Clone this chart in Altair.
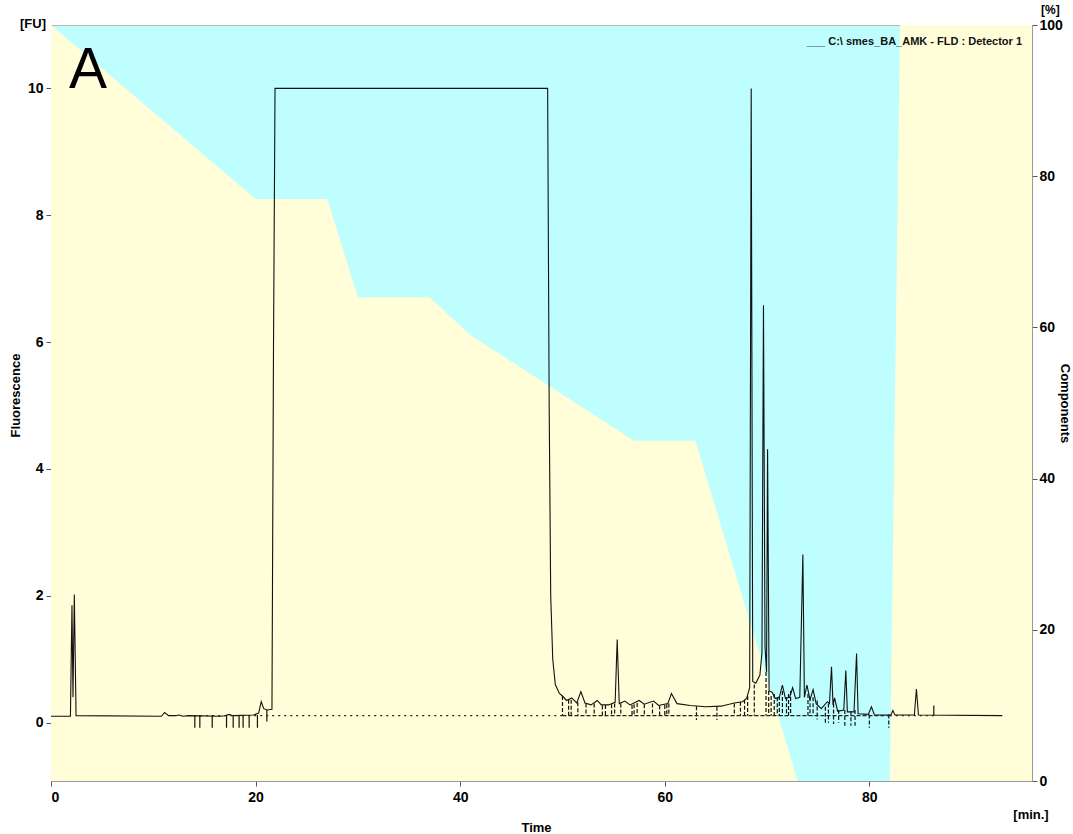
import altair as alt
import pandas as pd

# ---------------- data ----------------
trace_time = [0.0, 1.9, 2.05, 2.15, 2.28, 2.45, 10.8, 11.1, 11.5, 12.2, 12.5, 12.9, 13.4, 16.5, 17.0, 17.4, 17.8,
              19.8, 20.3, 20.55, 20.8, 21.1, 21.6, 21.75, 21.9, 48.55, 48.7, 48.85, 49.05, 49.3, 49.7, 50.0, 50.4,
              50.9, 51.4, 51.8, 52.2, 52.8, 53.4, 53.8, 54.5, 55.15, 55.35, 55.55, 56.1, 56.6, 57.5, 58.0, 58.9,
              59.4, 60.3, 60.65, 61.2, 62.5, 64.0, 65.5, 66.8, 67.6, 68.0, 68.3, 68.45, 68.6, 68.9, 69.3, 69.5,
              69.65, 69.8, 69.95, 70.05, 70.2, 70.5, 70.8, 71.2, 71.5, 71.8, 72.2, 72.5, 72.8, 73.2, 73.5, 73.65,
              73.9, 74.2, 74.5, 74.8, 75.3, 75.9, 76.1, 76.3, 76.45, 76.6, 76.9, 77.5, 77.7, 77.85, 78.5, 78.75,
              78.9, 79.9, 80.2, 80.5, 82.1, 82.3, 82.5, 84.4, 84.6, 84.8, 93.0]
trace_fu = [0.10, 0.10, 1.85, 0.40, 2.02, 0.11, 0.10, 0.16, 0.11, 0.11, 0.12, 0.10, 0.11, 0.10, 0.11, 0.13, 0.11,
            0.12, 0.15, 0.33, 0.22, 0.20, 0.21, 5.9, 10.0, 10.0, 5.0, 2.0, 1.0, 0.6, 0.46, 0.42, 0.35,
            0.39, 0.31, 0.49, 0.31, 0.28, 0.35, 0.28, 0.28, 0.32, 1.31, 0.30, 0.34, 0.28, 0.35, 0.29, 0.34,
            0.27, 0.30, 0.46, 0.30, 0.27, 0.25, 0.26, 0.31, 0.33, 0.38, 0.55, 10.0, 0.65, 0.62, 0.75, 1.1,
            6.58, 1.2, 0.8, 4.31, 0.5, 0.48, 0.38, 0.40, 0.59, 0.38, 0.40, 0.55, 0.38, 0.40, 2.65, 0.40,
            0.59, 0.36, 0.52, 0.30, 0.22, 0.33, 0.30, 0.88, 0.28, 0.39, 0.18, 0.20, 0.82, 0.17, 0.17, 1.09,
            0.14, 0.13, 0.25, 0.12, 0.12, 0.19, 0.12, 0.12, 0.53, 0.12, 0.11]

# solvent gradient profile (Components, %)
grad_time = [0, 20, 27, 30, 37, 41, 57, 63, 73, 82, 83, 95.9]
grad_pct = [100, 77, 77, 64, 64, 59, 45, 45, 0, 0, 100, 100]

# peak delimiters
sep_time = [14.06, 14.55, 15.76, 17.16, 17.81, 18.39, 18.78, 19.37, 20.18, 21.1,
            50.0, 50.6, 50.85, 51.5, 52.3, 53.1, 53.9, 54.2, 54.8, 55.1, 55.7, 56.8, 57.0, 57.3, 58.0, 58.8,
            59.5, 60.0, 60.2, 60.4, 63.1, 65.1, 66.8, 67.4, 67.8, 68.1,
            68.75, 69.9, 70.16, 70.4, 70.7, 71.0, 71.2, 71.5, 71.9, 72.1, 72.3, 74.0, 74.2, 74.5, 74.9,
            75.7, 76.0, 76.5, 77.0, 77.6, 78.2, 78.6, 80.0, 81.9, 86.3]
sep_top = [0.12, 0.12, 0.12, 0.12, 0.12, 0.12, 0.12, 0.12, 0.12, 0.20,
           0.42, 0.36, 0.36, 0.32, 0.30, 0.30, 0.27, 0.28, 0.29, 0.30, 0.30, 0.28, 0.29, 0.31, 0.29, 0.30,
           0.27, 0.28, 0.29, 0.30, 0.26, 0.25, 0.30, 0.33, 0.36, 0.42,
           0.60, 0.80, 0.50, 0.42, 0.45, 0.40, 0.42, 0.50, 0.40, 0.45, 0.50, 0.45, 0.40, 0.40, 0.35,
           0.25, 0.30, 0.30, 0.20, 0.20, 0.18, 0.20, 0.13, 0.13, 0.27]
sep_bottom = [-0.08, -0.08, -0.08, -0.08, -0.08, -0.08, -0.08, -0.08, -0.08, 0.02,
              0.11, 0.11, 0.11, 0.11, 0.11, 0.11, 0.11, 0.11, 0.11, 0.11, 0.11, 0.11, 0.11, 0.11, 0.11, 0.11,
              0.11, 0.11, 0.11, 0.11, 0.04, 0.04, 0.11, 0.11, 0.11, 0.11,
              0.11, 0.11, 0.11, 0.11, 0.11, 0.11, 0.11, 0.11, 0.11, 0.11, 0.11, 0.11, 0.11, 0.11, 0.05,
              0.0, 0.0, -0.02, 0.0, -0.05, -0.05, -0.05, -0.08, -0.08, 0.11]
sep_style = ["solid"] * 10 + ["dash"] * 26 + ["dash"] * 24 + ["solid"]

# integration baseline segments
base_start = [14.0, 50.0, 82.0]
base_end = [50.0, 82.0, 86.3]
base_level = [0.11, 0.11, 0.11]
base_style = ["dot", "dash", "dot"]

X_DOM = [0, 95.9]
Y_DOM = [-0.92, 11.0]
CYAN = "#BFFEFE"
YELLOW = "#FFFED9"
FONT = "Liberation Sans"

trace_df = pd.DataFrame({"t": trace_time, "fu": trace_fu})
grad_df = pd.DataFrame({"t": grad_time, "pct": grad_pct})
sep_df = pd.DataFrame({"t": sep_time, "fu": sep_top, "fu2": sep_bottom, "style": sep_style})
base_df = pd.DataFrame({"t": base_start, "t2": base_end, "fu": base_level, "style": base_style})

x_axis = alt.Axis(values=[0, 20, 40, 60, 80], title="Time", grid=False, titleX=485, titleY=46,
                  titleAlign="center", titleBaseline="middle", labelPadding=4)
x_enc = alt.X("t:Q", scale=alt.Scale(domain=X_DOM, nice=False, zero=False), axis=x_axis)

y_axis = alt.Axis(values=[0, 2, 4, 6, 8, 10], title="Fluorescence", grid=False, titleAngle=270,
                  titleX=-36, titleY=370, titleAlign="center", titleBaseline="middle", labelPadding=3)
y_scale = alt.Scale(domain=Y_DOM, nice=False, zero=False)

dash_scale = alt.Scale(domain=["solid", "dot", "dash"], range=[[1, 0], [2, 4], [4, 2]])

grad = alt.Chart(grad_df).mark_area(color=YELLOW, opacity=1, interpolate="linear").encode(
    x=x_enc,
    y=alt.Y("pct:Q", scale=alt.Scale(domain=[0, 100], nice=False),
            axis=alt.Axis(orient="right", values=[0, 20, 40, 60, 80, 100], title="Components", grid=False,
                          titleAngle=90, titleX=32, titleY=378, titleAlign="center", titleBaseline="middle",
                          labelPadding=2)),
)

trace = alt.Chart(trace_df).mark_line(color="#111111", strokeWidth=1.1).encode(
    x=x_enc,
    y=alt.Y("fu:Q", scale=y_scale, axis=y_axis),
)

baseline = alt.Chart(base_df).mark_rule(color="#222222", strokeWidth=1.3).encode(
    x=x_enc,
    x2="t2:Q",
    y=alt.Y("fu:Q", scale=y_scale, axis=y_axis),
    strokeDash=alt.StrokeDash("style:N", scale=dash_scale, legend=None),
)

seps = alt.Chart(sep_df).mark_rule(color="#111111", strokeWidth=1.2).encode(
    x=x_enc,
    y=alt.Y("fu:Q", scale=y_scale, axis=y_axis),
    y2="fu2:Q",
    strokeDash=alt.StrokeDash("style:N", scale=dash_scale, legend=None),
)

one = pd.DataFrame({"k": [0]})
txt_A = alt.Chart(one).mark_text(text="A", font=FONT, fontSize=57, align="left", baseline="alphabetic",
                                 color="black").encode(x=alt.value(18), y=alt.value(63))
txt_fu = alt.Chart(one).mark_text(text="[FU]", font=FONT, fontSize=13, fontWeight="bold", align="right",
                                  baseline="middle", color="black").encode(x=alt.value(-5), y=alt.value(-1))
txt_pct = alt.Chart(one).mark_text(text="[%]", font=FONT, fontSize=12, fontWeight="bold", align="left",
                                   baseline="middle", color="black").encode(x=alt.value(990), y=alt.value(-15))
txt_min = alt.Chart(one).mark_text(text="[min.]", font=FONT, fontSize=13, fontWeight="bold", align="center",
                                   baseline="middle", color="black").encode(x=alt.value(980), y=alt.value(790))
txt_leg = alt.Chart(one).mark_text(text="___ C:\\ smes_BA_AMK - FLD : Detector 1", font=FONT, fontSize=11,
                                   fontWeight="bold", align="right", baseline="middle",
                                   color="#111111").encode(x=alt.value(971), y=alt.value(17))

inner = alt.layer(trace, seps, baseline, txt_A, txt_fu, txt_pct, txt_min, txt_leg)

chart = alt.layer(grad, inner).resolve_scale(y="independent").properties(
    width=981, height=756,
    autosize=alt.AutoSizeParams(type="none"),
    padding={"left": 51, "top": 25, "right": 41, "bottom": 53},
).configure_view(fill=CYAN, stroke="#b8b8b8", strokeWidth=1).configure_axis(
    labelFont=FONT, labelFontSize=14, labelFontWeight="bold", labelColor="black",
    titleFont=FONT, titleFontSize=13, titleFontWeight="bold", titleColor="black",
    domainColor="#9a9a9a", tickColor="#555555", tickSize=5,
)

chart.save("out.html", embed_options={"renderer": "svg", "actions": False})
